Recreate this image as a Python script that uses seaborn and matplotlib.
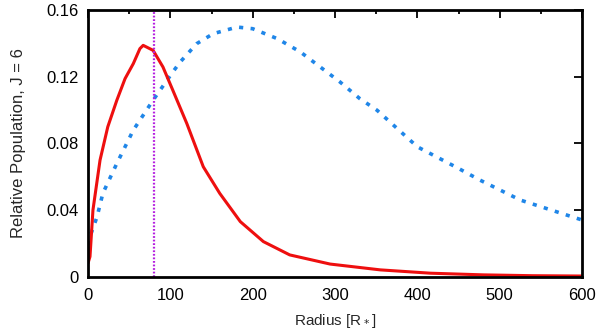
import matplotlib
matplotlib.use("Agg")
import matplotlib.pyplot as plt
import seaborn as sns
import pandas as pd

sns.set_theme(style="white")
plt.rcParams['font.family'] = ['Liberation Sans', 'DejaVu Sans']

red_r = [0, 2.4, 6, 14.6, 24, 35, 45, 55, 63, 67, 79, 91, 103, 120, 140, 160, 185, 213, 245, 294, 355, 416, 480, 540, 600]
red_v = [0.008, 0.012, 0.040, 0.070, 0.090, 0.106, 0.119, 0.128, 0.137, 0.139, 0.136, 0.126, 0.112, 0.092, 0.066, 0.050, 0.033, 0.021, 0.013, 0.0075, 0.004, 0.002, 0.001, 0.0005, 0.0003]

blue_r = [0, 2.4, 11, 18, 35, 55, 79, 103, 112, 132, 152, 181, 200, 230, 258, 282, 306, 330, 351, 400, 450, 476, 525, 600]
blue_v = [0.012, 0.024, 0.036, 0.050, 0.068, 0.088, 0.106, 0.123, 0.129, 0.140, 0.146, 0.150, 0.149, 0.143, 0.135, 0.126, 0.117, 0.107, 0.100, 0.078, 0.065, 0.058, 0.046, 0.034]

vline_r = 80

x_ticks = [0, 100, 200, 300, 400, 500, 600]
y_ticks = [0, 0.04, 0.08, 0.12, 0.16]
y_tick_labels = ["0", "0.04", "0.08", "0.12", "0.16"]

red = pd.DataFrame({"r": red_r, "v": red_v})
blue = pd.DataFrame({"r": blue_r, "v": blue_v})

fig = plt.figure(figsize=(6, 3.36), dpi=100)
ax = fig.add_axes([0.1467, 0.177, 0.8233, 0.792])

sns.lineplot(data=blue, x="r", y="v", ax=ax, color="#1f86e8", lw=2.6,
             linestyle=(0, (1.15, 2.05)), dash_capstyle="butt")
sns.lineplot(data=red, x="r", y="v", ax=ax, color="#ee0f0f", lw=2.2)
ax.axvline(vline_r, color="#b520e0", lw=1.6, linestyle=(0, (0.8, 0.8)))

ax.set_xlim(0, 600)
ax.set_ylim(0, 0.16)
ax.set_xticks(x_ticks)
ax.set_xticklabels([str(t) for t in x_ticks])
ax.set_xticks([50, 150, 250, 350, 450, 550], minor=True)
ax.set_yticks(y_ticks)
ax.set_yticklabels(y_tick_labels)
ax.tick_params(which="both", direction="in", top=True, right=True, width=1.3,
               labelsize=12, colors="black")
ax.tick_params(axis="x", pad=8)
ax.tick_params(axis="y", pad=7)
ax.tick_params(which="major", length=6)
ax.tick_params(which="minor", length=3)
for s in ax.spines.values():
    s.set_linewidth(2)
    s.set_color("black")
ax.set_xlabel("Radius [R$_*$]", fontsize=11, labelpad=7)
ax.set_ylabel("Relative Population, J = 6", fontsize=12, labelpad=14)

fig.savefig("out.png", dpi=100)
